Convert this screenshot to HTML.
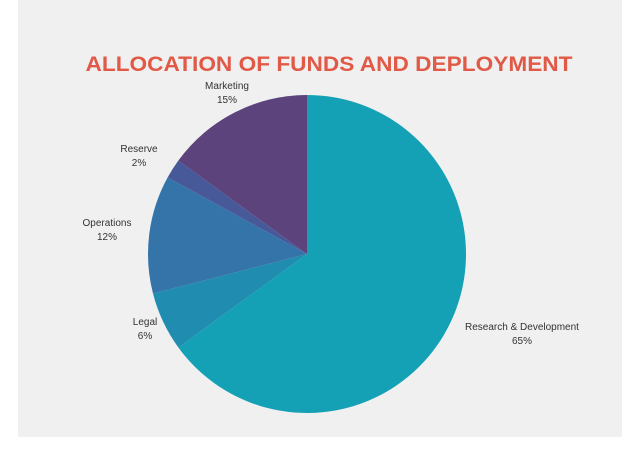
<!DOCTYPE html>
<html><head><meta charset="utf-8"><style>
html,body{margin:0;padding:0;background:#fff;}
svg{display:block;font-family:"Liberation Sans",sans-serif;}
</style></head><body>
<svg id="chart" width="640" height="459" viewBox="0 0 640 459">
<rect x="18" y="0" width="604" height="437" fill="#f0f0f0"/>
<text x="329" y="71" text-anchor="middle" font-size="21" font-weight="bold" fill="#e05a47" textLength="487" lengthAdjust="spacingAndGlyphs">ALLOCATION OF FUNDS AND DEPLOYMENT</text>
<g id="slices"></g>
<g id="labels"></g>
</svg>
<script>
const categories = ["Research & Development","Legal","Operations","Reserve","Marketing"];
const values = [65,6,12,2,15];
const colors = ["#15a1b5","#1f8cb0","#3474a8","#48599a","#5c437c"];
const labelPos = [[522,330],[145,325],[107,226],[139,152],[227,89]];
const cx=307, cy=254, r=159;
const total = values.reduce((a,b)=>a+b,0);
const ns="http://www.w3.org/2000/svg";
const gS=document.getElementById('slices'), gL=document.getElementById('labels');
function pt(a){return [cx+r*Math.sin(a), cy-r*Math.cos(a)];}
let acc=0;
values.forEach((v,i)=>{
  const a0=acc/total*2*Math.PI; acc+=v; const a1=acc/total*2*Math.PI;
  const p0=pt(a0), p1=pt(a1), large=(a1-a0)>Math.PI?1:0;
  const path=document.createElementNS(ns,'path');
  path.setAttribute('d',`M${cx},${cy} L${p0[0]},${p0[1]} A${r},${r} 0 ${large} 1 ${p1[0]},${p1[1]} Z`);
  path.setAttribute('fill',colors[i]);
  
  
  gS.appendChild(path);
  const t=document.createElementNS(ns,'text');
  t.setAttribute('x',labelPos[i][0]); t.setAttribute('y',labelPos[i][1]);
  t.setAttribute('text-anchor','middle'); t.setAttribute('font-size','10'); t.setAttribute('fill','#333');
  
  
  const s1=document.createElementNS(ns,'tspan'); s1.setAttribute('x',labelPos[i][0]); s1.textContent=categories[i];
  const s2=document.createElementNS(ns,'tspan'); s2.setAttribute('x',labelPos[i][0]); s2.setAttribute('dy','14'); s2.textContent=v+'%';
  t.appendChild(s1); t.appendChild(s2); gL.appendChild(t);
});
</script>
</body></html>
